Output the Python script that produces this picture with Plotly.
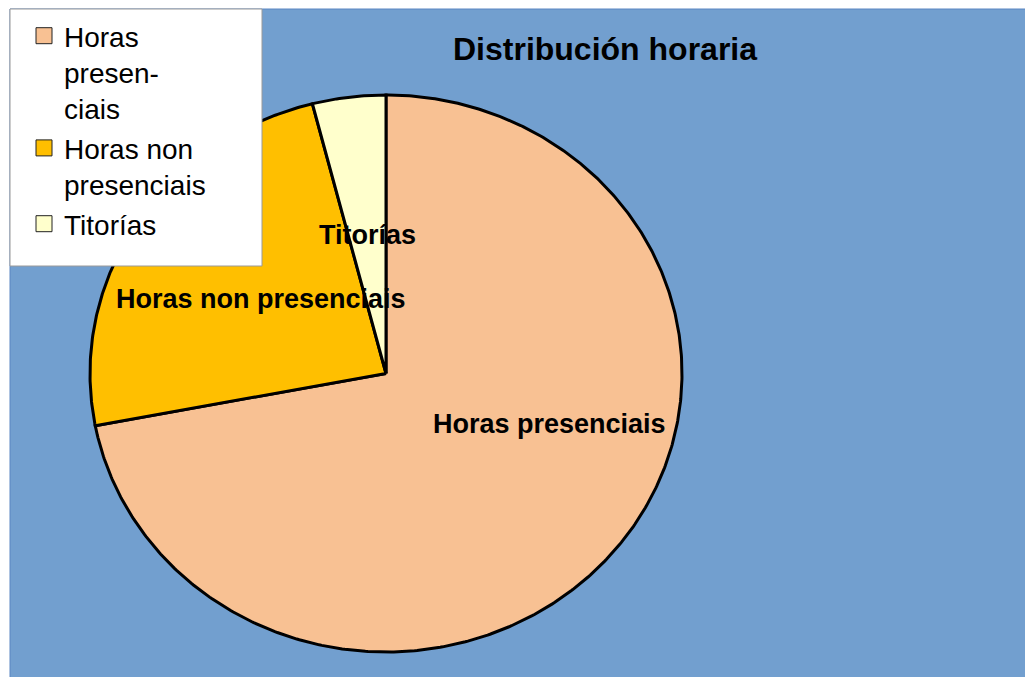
import numpy as np
import plotly.graph_objects as go

# ---- data ----
categories = ["Horas presenciais", "Horas non presenciais", "Titorías"]
legend_labels = ["Horas<br>presen-<br>ciais", "Horas non<br>presenciais", "Titorías"]
hours = [108, 36, 6]
colors = ["#F8C193", "#FFBF00", "#FFFFCC"]

W, H = 1033, 677
OFF = 8  # page body margin of the html page
# pie geometry in pixels (reference is slightly stretched horizontally)
CX, CY, RX, RY = 386 - OFF, 373.5 - OFF, 296, 278.5

fig = go.Figure()

total = float(sum(hours))
start = 0.0
mids = []
for name, v, c in zip(categories, hours, colors):
    a0 = start
    a1 = start + 360.0 * v / total
    n = max(8, int((a1 - a0) * 2))
    th = np.radians(np.linspace(a0, a1, n))
    xs = np.concatenate([[0.0], np.sin(th), [0.0]])
    ys = np.concatenate([[0.0], np.cos(th), [0.0]])
    fig.add_trace(go.Scatter(
        x=xs, y=ys, mode="lines", fill="toself", fillcolor=c,
        line=dict(color="black", width=3), showlegend=False,
        hoverinfo="skip", name=name))
    mids.append((a0 + a1) / 2.0)
    start = a1

# legend entries
for lab, c in zip(legend_labels, colors):
    fig.add_trace(go.Scatter(
        x=[None], y=[None], mode="markers", name=lab,
        marker=dict(symbol="square", size=20, color=c,
                    line=dict(color="#222222", width=1))))

# slice labels
label_r = [None, 0.5, 0.5]
label_xy = []
for i, m in enumerate(mids):
    if label_r[i] is None:
        label_xy.append((0.554, -0.181))
    else:
        t = np.radians(m)
        label_xy.append((label_r[i] * np.sin(t), label_r[i] * np.cos(t)))
for name, (lx, ly) in zip(categories, label_xy):
    fig.add_annotation(x=lx, y=ly, xref="x", yref="y", text="<b>%s</b>" % name,
                       showarrow=False, xanchor="center", yanchor="middle",
                       font=dict(family="Liberation Sans, Arial, sans-serif",
                                 size=27, color="black"))

# blue chart area
fig.add_shape(type="rect", xref="paper", yref="paper",
              x0=(10 - OFF) / W, x1=1.02, y0=-0.02, y1=1 - (9 - OFF) / H,
              fillcolor="#729FCF", line=dict(color="#5A86C2", width=1),
              layer="below")
# legend box
fig.add_shape(type="rect", xref="paper", yref="paper",
              x0=(10 - OFF) / W, x1=(262 - OFF) / W,
              y0=1 - (266 - OFF) / H, y1=1 - (9 - OFF) / H,
              fillcolor="white", line=dict(color="#9a9a9a", width=1),
              layer="above")

fig.update_layout(
    width=W, height=H,
    margin=dict(l=0, r=0, t=0, b=0),
    paper_bgcolor="white", plot_bgcolor="rgba(0,0,0,0)",
    title=dict(text="<b>Distribución horaria</b>", x=(605 - OFF) / W,
               xanchor="center", y=1 - (49 - OFF) / H, yanchor="middle",
               xref="paper", yref="paper",
               font=dict(family="Liberation Sans, Arial, sans-serif", size=32,
                         color="black")),
    xaxis=dict(range=[-CX / RX, (W - CX) / RX], visible=False, fixedrange=True),
    yaxis=dict(range=[(CY - H) / RY, CY / RY], visible=False, fixedrange=True),
    legend=dict(x=(24 - OFF) / W, y=1 - 3 / H, xanchor="left", yanchor="top",
                bgcolor="rgba(0,0,0,0)", borderwidth=0, valign="top",
                font=dict(family="Liberation Sans, Arial, sans-serif", size=28,
                          color="black"),
                tracegroupgap=0, itemsizing="trace"),
    showlegend=True,
)

fig.write_html("out.html")
